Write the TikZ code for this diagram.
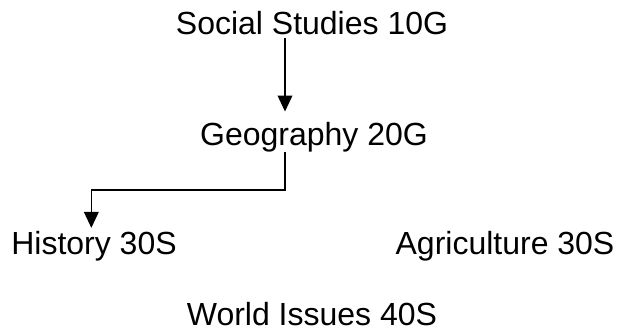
\documentclass[tikz,border=0pt]{standalone}
\usepackage{fontspec}
\setmainfont{Liberation Sans}
\usetikzlibrary{positioning, arrows.meta}

\tikzset{
  course/.style={inner sep=0pt, anchor=base, font=\fontsize{24}{28}\selectfont},
  link/.style={line width=1.1pt, -{Triangle[length=12pt, width=11pt]}}
}

\begin{document}
\begin{tikzpicture}[x=0.75pt, y=-0.75pt]
      \useasboundingbox (0,0) rectangle (617,332);

      \node[course] (social) at (312,34) {Social Studies 10G};
      \node[course] (geo) at (314,145) {Geography 20G};
      \coordinate (spine) at (285,0);

      \node[course] (hist) at (94,254) {History 30S};
      \node[course] (agri) at (505,254) {Agriculture 30S};

      \node[course] (world) at (312,325) {World Issues 40S};


      \draw[link, shorten >=7.5pt] ([yshift=-3pt]social.base -| spine)--(geo.north -| spine);

      \draw[link, shorten >=2pt] (geo.south -| spine)--++(0,38) -| ([xshift=-2]hist.north);
    \end{tikzpicture}
\end{document}
